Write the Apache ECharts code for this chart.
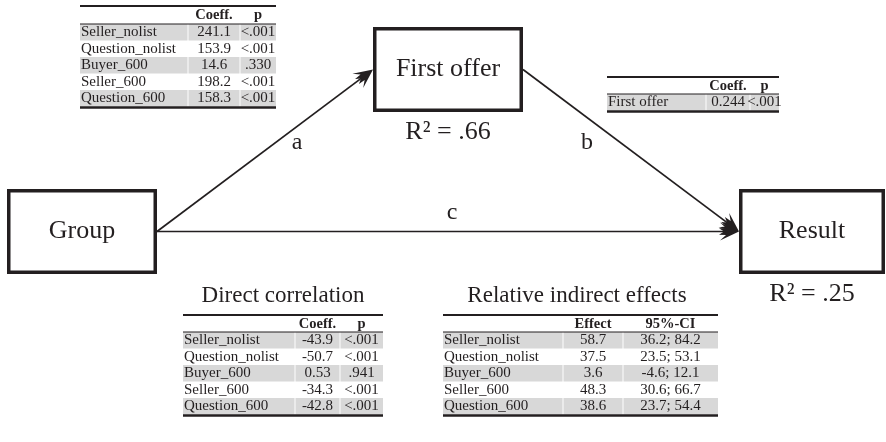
<!DOCTYPE html>
<html>
<head>
<meta charset="utf-8">
<script src="https://cdn.jsdelivr.net/npm/echarts@6/dist/echarts.min.js"></script>
<style>
  html, body { margin: 0; padding: 0; background: #ffffff; }
  #chart { width: 886px; height: 442px; }
</style>
</head>
<body>
<div id="chart"></div>
<script>
// ---- model content ----
const boxNames = ['Group', 'First offer', 'Result'];
const pathNames = ['a', 'b', 'c'];
const rSquared = { 'First offer': '.66', 'Result': '.25' };

const groups = ['Seller_nolist', 'Question_nolist', 'Buyer_600', 'Seller_600', 'Question_600'];

// path a: Group -> First offer
const aCoeff = [241.1, 153.9, 14.6, 198.2, 158.3];
const aP = ['<.001', '<.001', '.330', '<.001', '<.001'];

// path b: First offer -> Result
const bNames = ['First offer'];
const bCoeff = [0.244];
const bP = ['<.001'];

// path c: direct correlation Group -> Result
const cCoeff = [-43.9, -50.7, 0.53, -34.3, -42.8];
const cP = ['<.001', '<.001', '.941', '<.001', '<.001'];

// relative indirect effects with 95% confidence intervals
const indEffect = [58.7, 37.5, 3.6, 48.3, 38.6];
const indLow = [36.2, 23.5, -4.6, 30.6, 23.7];
const indHigh = [84.2, 53.1, 12.1, 66.7, 54.4];

const coefHeader = ['', 'Coeff.', 'p'];
const indHeader = ['', 'Effect', '95%-CI'];
const tableTitles = ['Direct correlation', 'Relative indirect effects'];

// ---- drawing ----
const INK = '#231f20';
const SHADE = '#d8d8d8';
const SERIF = '"Liberation Serif", "Times New Roman", serif';

const chart = echarts.init(document.getElementById('chart'), null, { renderer: 'canvas' });
const els = [];

function text(str, x, y, size, opts) {
  opts = opts || {};
  els.push({
    type: 'text',
    silent: true,
    style: {
      text: str, x: x, y: y,
      font: (opts.bold ? 'bold ' : '') + size + 'px ' + SERIF,
      fill: INK,
      align: opts.align || 'center', textAlign: opts.align || 'center',
      verticalAlign: 'middle', textVerticalAlign: 'middle'
    }
  });
}

function hline(x1, x2, y, w) {
  els.push({ type: 'line', silent: true, shape: { x1: x1, y1: y, x2: x2, y2: y }, style: { stroke: INK, lineWidth: w } });
}

// boxes of the path model
const BOX_STROKE = 3.5;
const boxes = {
  'Group':       { left: 7,   top: 189, w: 150, h: 85 },
  'First offer': { left: 373, top: 27,  w: 150, h: 85 },
  'Result':      { left: 739, top: 189, w: 146, h: 85 }
};
boxNames.forEach(function (name) {
  const b = boxes[name];
  els.push({
    type: 'rect', silent: true,
    shape: { x: b.left + BOX_STROKE / 2, y: b.top + BOX_STROKE / 2, width: b.w - BOX_STROKE, height: b.h - BOX_STROKE },
    style: { fill: '#ffffff', stroke: INK, lineWidth: BOX_STROKE }
  });
  text(name, b.left + b.w / 2, b.top + b.h / 2, 26);
  if (rSquared[name]) text('R\u00b2 = ' + rSquared[name], b.left + b.w / 2, b.top + b.h + 20, 26);
});

function rightMid(b) { return [b.left + b.w, b.top + b.h / 2]; }
function leftMid(b) { return [b.left, b.top + b.h / 2]; }

// barbed arrow head, tip at the target edge
function arrow(from, to) {
  const dx = to[0] - from[0], dy = to[1] - from[1];
  const len = Math.sqrt(dx * dx + dy * dy);
  const ux = dx / len, uy = dy / len, nx = -uy, ny = ux;
  const local = [[0, 0], [-19, -9], [-13, -3.4], [-20, -3.2], [-15, 0], [-20, 3.2], [-13, 3.4], [-19, 9]];
  const pts = local.map(function (p) {
    return [to[0] + ux * p[0] + nx * p[1], to[1] + uy * p[0] + ny * p[1]];
  });
  els.push({
    type: 'line', silent: true,
    shape: { x1: from[0], y1: from[1], x2: to[0] - ux * 14, y2: to[1] - uy * 14 },
    style: { stroke: INK, lineWidth: 1.7 }
  });
  els.push({ type: 'polygon', silent: true, shape: { points: pts }, style: { fill: INK } });
}

const paths = {
  a: [rightMid(boxes['Group']), leftMid(boxes['First offer'])],
  b: [rightMid(boxes['First offer']), leftMid(boxes['Result'])],
  c: [rightMid(boxes['Group']), leftMid(boxes['Result'])]
};
const pathLabelPos = { a: [297, 143], b: [587, 143], c: [452, 213] };
pathNames.forEach(function (p) {
  arrow(paths[p][0], paths[p][1]);
  text(p, pathLabelPos[p][0], pathLabelPos[p][1], 24);
});

// booktabs-style table with shaded alternate rows
function table(t) {
  const cols = t.cols, left = cols[0], right = cols[cols.length - 1];
  text(t.header[1], (cols[1] + cols[2]) / 2, t.headY, 14.5, { bold: true });
  text(t.header[2], (cols[2] + cols[3]) / 2, t.headY, 14.5, { bold: true });
  t.rows.forEach(function (row, i) {
    const y0 = t.ruleY + i * t.rowH;
    if (i % 2 === 0) {
      for (let c = 0; c < cols.length - 1; c++) {
        const x0 = cols[c] + (c > 0 ? 0.5 : 0);
        const x1 = cols[c + 1] - (c < cols.length - 2 ? 0.5 : 0);
        els.push({ type: 'rect', silent: true, shape: { x: x0, y: y0, width: x1 - x0, height: t.rowH }, style: { fill: SHADE } });
      }
    }
    const cy = y0 + t.rowH / 2;
    text(row[0], left + 1, cy, 15, { align: 'left' });
    text(row[1], (cols[1] + cols[2]) / 2, cy, 15);
    text(row[2], (cols[2] + cols[3]) / 2, cy, 15);
  });
  hline(left, right, t.top, 2);
  hline(left, right, t.ruleY, 1);
  hline(left, right, t.ruleY + t.rows.length * t.rowH + 1, 2.5);
}

const ROW_H = 16.5;
table({
  cols: [80, 188, 240, 276], top: 6, headY: 15, ruleY: 24, rowH: ROW_H, header: coefHeader,
  rows: groups.map(function (g, i) { return [g, String(aCoeff[i]), aP[i]]; })
});
table({
  cols: [607, 706, 750, 779], top: 77, headY: 86, ruleY: 94, rowH: ROW_H, header: coefHeader,
  rows: bNames.map(function (g, i) { return [g, String(bCoeff[i]), bP[i]]; })
});
table({
  cols: [183, 295, 340, 383], top: 315, headY: 324, ruleY: 332, rowH: ROW_H, header: coefHeader,
  rows: groups.map(function (g, i) { return [g, String(cCoeff[i]), cP[i]]; })
});
table({
  cols: [443, 563, 623, 718], top: 315, headY: 324, ruleY: 332, rowH: ROW_H, header: indHeader,
  rows: groups.map(function (g, i) { return [g, String(indEffect[i]), indLow[i] + '; ' + indHigh[i]]; })
});
text(tableTitles[0], 283, 296, 23);
text(tableTitles[1], 577, 296, 23);

chart.setOption({
  backgroundColor: '#ffffff',
  animation: false,
  graphic: { elements: els }
});
</script>
</body>
</html>
